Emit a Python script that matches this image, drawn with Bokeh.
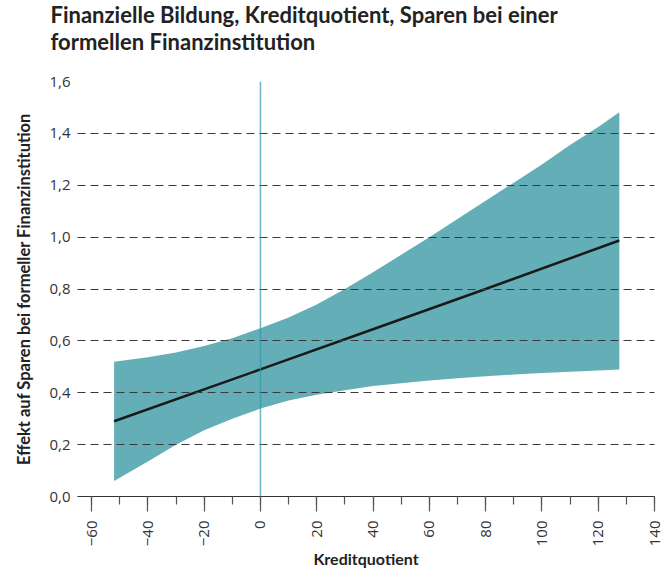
import math
from bokeh.plotting import figure
from bokeh.models import Range1d, FixedTicker, Span, Title
from bokeh.embed import file_html
from bokeh.resources import INLINE

# ---- data ----
band_x = [-52, -40, -30, -20, -10, 0, 10, 20, 30, 40, 50, 60, 70, 80, 90, 100, 110, 120, 127.5]
band_upper = [0.52, 0.537, 0.555, 0.58, 0.61, 0.649, 0.69, 0.74, 0.80, 0.865, 0.932, 1.0,
              1.07, 1.14, 1.21, 1.28, 1.355, 1.425, 1.481]
band_lower = [0.06, 0.135, 0.20, 0.255, 0.30, 0.339, 0.37, 0.392, 0.41, 0.426, 0.437, 0.447,
              0.456, 0.464, 0.47, 0.476, 0.481, 0.486, 0.49]
line_x = [-52, 0, 40, 80, 127.5]
line_y = [0.29, 0.49, 0.645, 0.80, 0.987]

x_ticks = [-60, -40, -20, 0, 20, 40, 60, 80, 100, 120, 140]
x_minor = [-60, -50, -40, -30, -20, -10, 0, 10, 20, 30, 40, 50, 60, 70, 80, 90, 100, 110, 120, 130, 140]
y_ticks = [0.0, 0.2, 0.4, 0.6, 0.8, 1.0, 1.2, 1.4, 1.6]
y_tick_labels = ["0,0", "0,2", "0,4", "0,6", "0,8", "1,0", "1,2", "1,4", "1,6"]

title_text = "Finanzielle Bildung, Kreditquotient, Sparen bei einer\nformellen Finanzinstitution"
x_label = "Kreditquotient"
y_label = "Effekt auf Sparen bei formeller Finanzinstitution"

TEAL = "#64aeb8"
COND = "Lato"

p = figure(width=672, height=573, output_backend="svg", toolbar_location=None, title=None,
           x_range=Range1d(-65, 140), y_range=Range1d(0, 1.6),
           min_border_left=77, min_border_right=18, min_border_top=81, min_border_bottom=77)

# spacer between title and plot area (closest to the frame), then the title
p.add_layout(Title(text=" ", text_font_size="1px", standoff=27), "above")
p.add_layout(Title(text=title_text, text_font=COND, text_font_size="22px",
                   text_font_style="bold", text_color="#222222",
                   align="left", offset=-27, standoff=-6), "above")

p.outline_line_color = None
p.background_fill_color = "white"

p.varea(x=band_x, y1=band_lower, y2=band_upper, fill_color=TEAL, fill_alpha=1.0)
p.line(x=line_x, y=line_y, line_color="#1a1a1a", line_width=2.5)
p.add_layout(Span(location=0, dimension="height", line_color="#2e97a3", line_alpha=0.7, line_width=1.5))

p.xgrid.grid_line_color = None
p.ygrid.ticker = FixedTicker(ticks=y_ticks[1:])
p.ygrid.grid_line_color = "#3a3a3a"
p.ygrid.grid_line_dash = "8 5"
p.ygrid.grid_line_width = 1
p.ygrid.level = "annotation"

xa = p.xaxis[0]
xa.ticker = FixedTicker(ticks=x_ticks, minor_ticks=x_minor)
xa.axis_line_color = "#333333"
xa.axis_line_width = 1.2
xa.major_tick_line_color = "#555555"
xa.major_tick_line_width = 1.2
xa.major_tick_out = 15
xa.major_tick_in = 0
xa.minor_tick_line_color = "#555555"
xa.minor_tick_line_width = 1.2
xa.minor_tick_out = 8
xa.minor_tick_in = 0
xa.major_label_orientation = math.pi / 2
xa.major_label_standoff = 9
xa.major_label_text_font = "Open Sans"
xa.major_label_text_font_size = "15px"
xa.major_label_text_color = "#333333"
xa.axis_label = x_label
xa.axis_label_text_font = COND
xa.axis_label_text_font_style = "bold"
xa.axis_label_text_font_size = "16px"
xa.axis_label_text_color = "#222222"
xa.axis_label_standoff = 0

ya = p.yaxis[0]
ya.ticker = FixedTicker(ticks=y_ticks)
ya.major_label_overrides = {t: l for t, l in zip(y_ticks, y_tick_labels)}
ya.axis_line_color = None
ya.major_tick_line_color = None
ya.minor_tick_line_color = None
ya.major_tick_out = 0
ya.minor_tick_out = 0
ya.major_label_standoff = 7
ya.major_label_text_font = "Open Sans"
ya.major_label_text_font_size = "15px"
ya.major_label_text_color = "#333333"
ya.axis_label = y_label
ya.axis_label_text_font = COND
ya.axis_label_text_font_style = "bold"
ya.axis_label_text_font_size = "16.5px"
ya.axis_label_text_color = "#222222"
ya.axis_label_standoff = 12

open("out.html", "w").write(file_html(p, INLINE))
